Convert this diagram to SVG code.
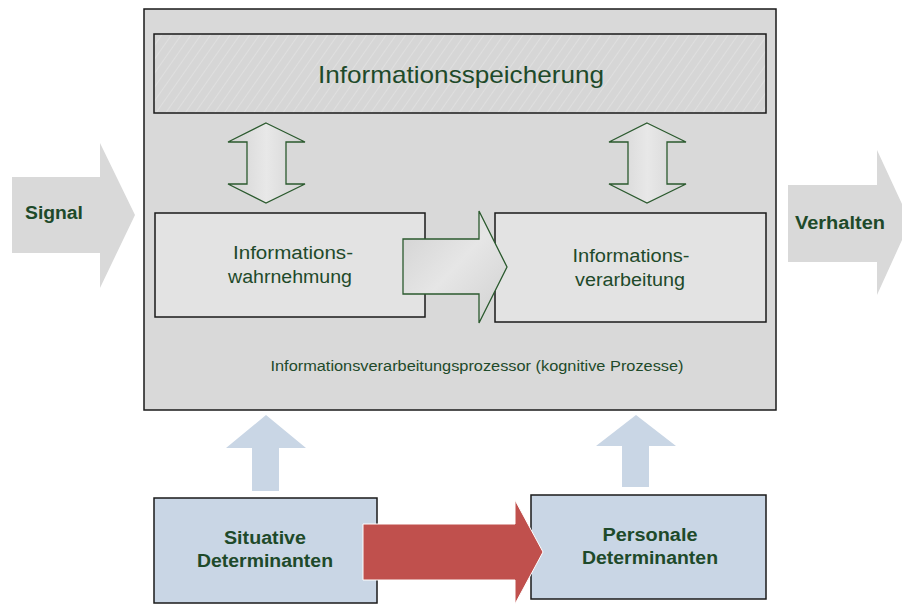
<svg xmlns="http://www.w3.org/2000/svg" width="902" height="604" viewBox="0 0 902 604">
  <style>
    .frame { fill: #d9d9d9; stroke: #1a1a1a; stroke-width: 1.5; }
    .box { fill: #e3e3e3; stroke: #1a1a1a; stroke-width: 1.5; }
    .det { fill: #c9d6e5; stroke: #1a1a1a; stroke-width: 1.5; }
    .flow { stroke: #2b5a2e; stroke-width: 1.3; stroke-linejoin: miter; }
    .grey { fill: #d9d9d9; }
    .blue { fill: #c9d6e5; }
    .red { fill: #c0504d; stroke: #ffffff; stroke-width: 1; }
    text { font-family: "Liberation Sans", Arial, sans-serif; fill: #1e4a2a; text-anchor: middle; }
    .bold { font-weight: bold; }
  </style>
  <defs>
    <pattern id="hatch" width="8" height="8" patternUnits="userSpaceOnUse" patternTransform="rotate(35)">
      <rect width="8" height="8" fill="#d6d6d6"/>
      <line x1="0" y1="0" x2="0" y2="8" stroke="#e6e6e6" stroke-width="1.2"/>
    </pattern>
    <linearGradient id="shadeV" x1="0" y1="0" x2="1" y2="0">
      <stop offset="0" stop-color="#d2d2d2"/>
      <stop offset="0.5" stop-color="#e8e8e8"/>
      <stop offset="1" stop-color="#d2d2d2"/>
    </linearGradient>
    <linearGradient id="shadeH" x1="0" y1="0" x2="1" y2="1">
      <stop offset="0" stop-color="#d0d0d0"/>
      <stop offset="0.5" stop-color="#e6e6e6"/>
      <stop offset="1" stop-color="#d0d0d0"/>
    </linearGradient>
  </defs>

  <!-- outer processor frame -->
  <g id="processor">
    <rect class="frame" x="144" y="9" width="632" height="401"/>
    <text x="477" y="371" font-size="14" textLength="413" lengthAdjust="spacingAndGlyphs">Informationsverarbeitungsprozessor (kognitive Prozesse)</text>
  </g>

  <g id="speicherung">
    <rect x="154" y="34" width="612" height="79" fill="url(#hatch)" stroke="#1a1a1a" stroke-width="1.5"/>
    <text x="461" y="83" font-size="24" textLength="286" lengthAdjust="spacingAndGlyphs">Informationsspeicherung</text>
  </g>

  <g id="wahrnehmung">
    <rect class="box" x="155" y="213" width="270" height="104"/>
    <text x="293" y="259" font-size="18" textLength="120" lengthAdjust="spacingAndGlyphs">Informations-</text>
    <text x="290" y="283" font-size="18" textLength="124" lengthAdjust="spacingAndGlyphs">wahrnehmung</text>
  </g>

  <g id="verarbeitung">
    <rect class="box" x="495" y="213" width="271" height="109"/>
    <text x="631" y="262" font-size="18" textLength="117" lengthAdjust="spacingAndGlyphs">Informations-</text>
    <text x="630" y="286" font-size="18" textLength="110" lengthAdjust="spacingAndGlyphs">verarbeitung</text>
  </g>

  <g id="signal">
    <polygon class="grey" points="12,177 100,177 100,143 135,215 100,288 100,253 12,253"/>
    <text class="bold" x="54" y="219" font-size="18" textLength="58" lengthAdjust="spacingAndGlyphs">Signal</text>
  </g>

  <g id="verhalten">
    <polygon class="grey" points="788,185 877,185 877,150 902,204 902,240 877,295 877,262 788,262"/>
    <text class="bold" x="840" y="229" font-size="18" textLength="90" lengthAdjust="spacingAndGlyphs">Verhalten</text>
  </g>

  <g id="situative">
    <rect class="det" x="154" y="498" width="223" height="105"/>
    <text class="bold" x="265" y="544" font-size="18" textLength="82" lengthAdjust="spacingAndGlyphs">Situative</text>
    <text class="bold" x="265" y="567" font-size="18" textLength="136" lengthAdjust="spacingAndGlyphs">Determinanten</text>
  </g>

  <g id="personale">
    <rect class="det" x="531" y="495" width="235" height="104"/>
    <text class="bold" x="650" y="541" font-size="18" textLength="95" lengthAdjust="spacingAndGlyphs">Personale</text>
    <text class="bold" x="650" y="564" font-size="18" textLength="136" lengthAdjust="spacingAndGlyphs">Determinanten</text>
  </g>

  <g id="connectors">
    <!-- storage exchange arrows -->
    <polygon class="flow" fill="url(#shadeV)" points="266,123 305,142 286,142 286,184 305,184 266,203 228,184 247,184 247,142 228,142"/>
    <polygon class="flow" fill="url(#shadeV)" points="647,123 686,142 667,142 667,184 686,184 647,203 609,184 628,184 628,142 609,142"/>
    <!-- perception to processing -->
    <polygon class="flow" fill="url(#shadeH)" points="403,239 479,239 479,211 507,267 479,323 479,294 403,294"/>
    <!-- determinants feeding the processor -->
    <polygon class="blue" points="266,415 306,448 279,448 279,491 252,491 252,448 226,448"/>
    <polygon class="blue" points="636,415 676,446 649,446 649,487 622,487 622,446 596,446"/>
    <!-- situative to personale -->
    <polygon class="red" points="363,524 515,524 515,500 543,552 515,604 515,580 363,580"/>
  </g>
</svg>
